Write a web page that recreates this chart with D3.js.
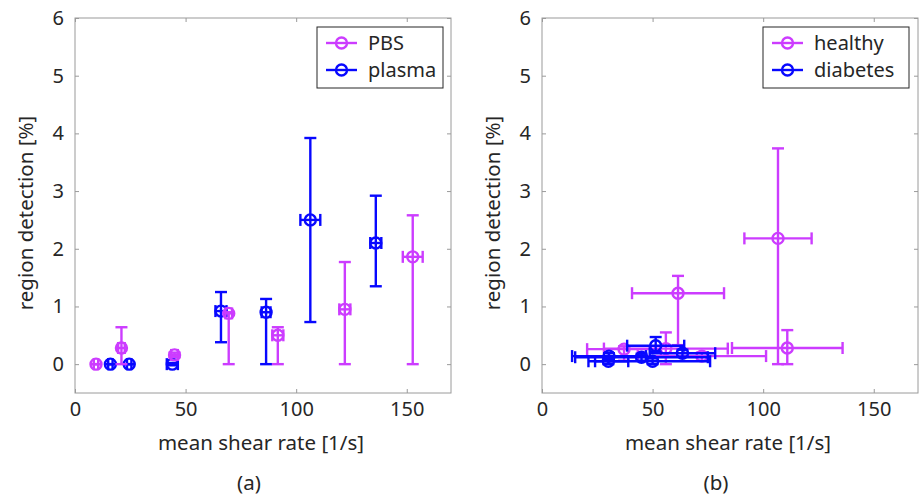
<!DOCTYPE html>
<html>
<head>
<meta charset="utf-8">
<script src="https://cdn.jsdelivr.net/npm/d3@7"></script>
<style>
body { margin:0; background:#fff; }
svg text { font-family:"Noto Sans","Open Sans",sans-serif; fill:#262626; }
</style>
</head>
<body>
<div id="idChart"></div>
<script>
// panel (a): PBS vs plasma
var pbsX    = [9.5, 21, 45, 69.5, 91.7, 122, 152.7];
var pbsY    = [0, 0.28, 0.16, 0.88, 0.5, 0.95, 1.86];
var pbsXErr = [1, 1.5, 1.5, 1.5, 2.5, 2.5, 4.5];
var pbsYLo  = [0, 0.28, 0.04, 0.88, 0.5, 0.95, 1.86];
var pbsYHi  = [0, 0.36, 0.04, 0.02, 0.14, 0.82, 0.72];

var plasmaX    = [16, 24.5, 44, 66, 86.4, 106.4, 136];
var plasmaY    = [0, 0, 0, 0.92, 0.9, 2.5, 2.1];
var plasmaXErr = [1, 1, 2.5, 2.5, 2, 4.5, 2.5];
var plasmaYLo  = [0, 0, 0.02, 0.54, 0.9, 1.77, 0.75];
var plasmaYHi  = [0, 0, 0.02, 0.33, 0.23, 1.42, 0.82];

// panel (b): healthy vs diabetes
var healthyX    = [106.7, 110.9, 61.5, 37.1, 56, 72.3];
var healthyY    = [2.18, 0.28, 1.23, 0.26, 0.27, 0.14];
var healthyXErr = [15.2, 25, 20.8, 16.7, 28, 29];
var healthyYLo  = [2.18, 0.28, 0.9, 0.2, 0.27, 0.08];
var healthyYHi  = [1.56, 0.31, 0.3, 0.05, 0.28, 0.06];

var diabetesX    = [30.3, 30, 45, 50, 51.4, 63.5];
var diabetesY    = [0.14, 0.05, 0.12, 0.05, 0.32, 0.19];
var diabetesXErr = [16.7, 9, 30, 26, 12.9, 14.8];
var diabetesYLo  = [0.05, 0.05, 0.06, 0.05, 0.1, 0.06];
var diabetesYHi  = [0.05, 0.05, 0.06, 0.05, 0.15, 0.06];

var xTicks = [0, 50, 100, 150];
var yTicks = [0, 1, 2, 3, 4, 5, 6];

var sMagenta = "#cc3cff";
var sBlue = "#0808ff";

var svg = d3.select("#idChart").append("svg")
	.attr("width", 920)
	.attr("height", 495);

function fSeries(aX, aY, aXErr, aLo, aHi)
{
	return aX.map(function(v, i) {
		return {x: v, y: aY[i], xe: aXErr[i], lo: aLo[i], hi: aHi[i]};
	});
}

function DrawPanel(iLeft, sTag, aSeries, aLegend, iLegLeft, iLegRight)
{
	var iTop = 18, iBottom = 393, iW = 376;
	var x = d3.scaleLinear().domain([0, 170]).range([iLeft, iLeft + iW]);
	var y = d3.scaleLinear().domain([-0.5, 6]).range([iBottom, iTop]);
	var g = svg.append("g");

	// frame with inward ticks on all sides
	g.append("rect")
		.attr("x", iLeft).attr("y", iTop)
		.attr("width", iW).attr("height", iBottom - iTop)
		.attr("fill", "none").attr("stroke", "#9a9a9a").attr("stroke-width", 1);

	var axB = d3.axisBottom(x).tickValues(xTicks).tickSize(-4).tickPadding(9).tickFormat(d3.format("d"));
	var axT = d3.axisTop(x).tickValues(xTicks).tickSize(-4).tickFormat("");
	var axL = d3.axisLeft(y).tickValues(yTicks).tickSize(-4).tickPadding(11).tickFormat(d3.format("d"));
	var axR = d3.axisRight(y).tickValues(yTicks).tickSize(-4).tickFormat("");

	[[axB, "translate(0," + iBottom + ")"], [axT, "translate(0," + iTop + ")"],
	 [axL, "translate(" + iLeft + ",0)"], [axR, "translate(" + (iLeft + iW) + ",0)"]].forEach(function(a) {
		var gA = g.append("g").attr("transform", a[1]).call(a[0]);
		gA.select(".domain").remove();
		gA.selectAll("line").attr("stroke", "#9a9a9a");
		gA.selectAll("text").style("font-size", "20px").attr("fill", "#262626");
	});

	g.append("text")
		.attr("x", iLeft + iW / 2 - 2).attr("y", 450)
		.attr("text-anchor", "middle").style("font-size", "20.5px")
		.text("mean shear rate [1/s]");
	g.append("text")
		.attr("x", iLeft + iW / 2 - 14).attr("y", 490)
		.attr("text-anchor", "middle").style("font-size", "20.5px")
		.text(sTag);
	g.append("text")
		.attr("transform", "translate(" + (iLeft - 42) + "," + 213 + ") rotate(-90)")
		.attr("text-anchor", "middle").style("font-size", "20.5px")
		.text("region detection [%]");

	var iCap = 6;
	aSeries.forEach(function(s) {
		var gS = g.append("g")
			.attr("stroke", s.color).attr("stroke-width", 2.4).attr("fill", "none");
		var pts = gS.selectAll(".pt").data(s.data).enter().append("g").attr("class", "pt");

		// vertical error
		pts.append("line")
			.attr("x1", function(d) { return x(d.x); }).attr("x2", function(d) { return x(d.x); })
			.attr("y1", function(d) { return y(d.y - d.lo); }).attr("y2", function(d) { return y(d.y + d.hi); });
		pts.append("line")
			.attr("x1", function(d) { return x(d.x) - iCap; }).attr("x2", function(d) { return x(d.x) + iCap; })
			.attr("y1", function(d) { return y(d.y - d.lo); }).attr("y2", function(d) { return y(d.y - d.lo); });
		pts.append("line")
			.attr("x1", function(d) { return x(d.x) - iCap; }).attr("x2", function(d) { return x(d.x) + iCap; })
			.attr("y1", function(d) { return y(d.y + d.hi); }).attr("y2", function(d) { return y(d.y + d.hi); });

		// horizontal error
		pts.append("line")
			.attr("x1", function(d) { return x(d.x - d.xe); }).attr("x2", function(d) { return x(d.x + d.xe); })
			.attr("y1", function(d) { return y(d.y); }).attr("y2", function(d) { return y(d.y); });
		pts.append("line")
			.attr("x1", function(d) { return x(d.x - d.xe); }).attr("x2", function(d) { return x(d.x - d.xe); })
			.attr("y1", function(d) { return y(d.y) - iCap; }).attr("y2", function(d) { return y(d.y) + iCap; });
		pts.append("line")
			.attr("x1", function(d) { return x(d.x + d.xe); }).attr("x2", function(d) { return x(d.x + d.xe); })
			.attr("y1", function(d) { return y(d.y) - iCap; }).attr("y2", function(d) { return y(d.y) + iCap; });

		pts.append("circle")
			.attr("cx", function(d) { return x(d.x); })
			.attr("cy", function(d) { return y(d.y); })
			.attr("r", 5.5);
	});

	// legend
	var gL = g.append("g");
	gL.append("rect")
		.attr("x", iLegLeft).attr("y", 27)
		.attr("width", iLegRight - iLegLeft).attr("height", 61)
		.attr("fill", "#fff").attr("stroke", "#262626").attr("stroke-width", 1);
	aLegend.forEach(function(l, i) {
		var iY = 43 + i * 27;
		gL.append("line")
			.attr("x1", iLegLeft + 9).attr("x2", iLegLeft + 40)
			.attr("y1", iY).attr("y2", iY)
			.attr("stroke", l.color).attr("stroke-width", 2.4);
		gL.append("circle")
			.attr("cx", iLegLeft + 24.5).attr("cy", iY).attr("r", 5.5)
			.attr("fill", "none").attr("stroke", l.color).attr("stroke-width", 2.4);
		gL.append("text")
			.attr("x", iLegLeft + 51).attr("y", iY + 7)
			.style("font-size", "20px")
			.text(l.name);
	});
}

DrawPanel(75, "(a)",
	[{color: sBlue, data: fSeries(plasmaX, plasmaY, plasmaXErr, plasmaYLo, plasmaYHi)},
	 {color: sMagenta, data: fSeries(pbsX, pbsY, pbsXErr, pbsYLo, pbsYHi)}],
	[{name: "PBS", color: sMagenta}, {name: "plasma", color: sBlue}], 317, 443);

DrawPanel(542, "(b)",
	[{color: sMagenta, data: fSeries(healthyX, healthyY, healthyXErr, healthyYLo, healthyYHi)},
	 {color: sBlue, data: fSeries(diabetesX, diabetesY, diabetesXErr, diabetesYLo, diabetesYHi)}],
	[{name: "healthy", color: sMagenta}, {name: "diabetes", color: sBlue}], 763, 909);
</script>
</body>
</html>
